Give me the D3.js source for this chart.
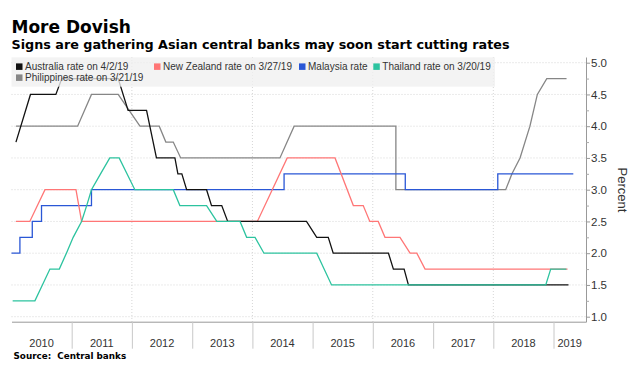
<!DOCTYPE html>
<html>
<head>
<meta charset="utf-8">
<script src="https://cdn.jsdelivr.net/npm/d3@7"></script>
<style>
  body { margin: 0; background: #fff; }
  svg { display: block; }
  .title { font-family: "DejaVu Sans", sans-serif; font-weight: bold; fill: #000; }
  .axis text { font-family: "Liberation Sans", Arial, sans-serif; fill: #333; }
  .legend text { font-family: "Liberation Sans", Arial, sans-serif; font-size: 10px; fill: #333; }
</style>
</head>
<body>
<div id="chart"></div>
<script>
/**
 * CONSTANTS
 * */
const width = 643,
  height = 375;

// plot box (left, right, top, bottom)
const plot = { left: 11.5, right: 586, top: 57, bottom: 321.7 };

/**
 * DATA  (date, policy rate in percent)
 * */
const australia = [
  ["2010-01-28", 3.75], ["2010-04-26", 4.5], ["2010-09-27", 4.5], ["2010-11-02", 4.75],
  ["2011-10-10", 4.75], ["2011-12-09", 4.25], ["2012-03-30", 4.25], ["2012-05-29", 3.5],
  ["2012-09-18", 3.5], ["2012-10-06", 3.25], ["2012-10-30", 3.25], ["2012-11-28", 3.0],
  ["2013-03-29", 3.0], ["2013-04-28", 2.75], ["2013-06-29", 2.75], ["2013-08-04", 2.5],
  ["2014-11-25", 2.5], ["2015-01-26", 2.25], ["2015-04-06", 2.25], ["2015-05-06", 2.0],
  ["2016-04-05", 2.0], ["2016-05-05", 1.75], ["2016-07-09", 1.75], ["2016-08-04", 1.5],
  ["2019-04-02", 1.5]
];

const newZealand = [
  ["2010-01-28", 2.5], ["2010-04-22", 2.5], ["2010-07-23", 3.0], ["2011-01-27", 3.0],
  ["2011-03-02", 2.5], ["2014-01-31", 2.5], ["2014-07-31", 3.5], ["2015-05-17", 3.5],
  ["2015-09-05", 2.75], ["2015-11-04", 2.75], ["2015-12-14", 2.5], ["2016-02-03", 2.5],
  ["2016-03-15", 2.25], ["2016-06-14", 2.25], ["2016-08-14", 2.0], ["2016-09-24", 2.0],
  ["2016-11-13", 1.75], ["2019-03-27", 1.75]
];

// Malaysia is drawn as steps: each entry is the day the rate changed
const malaysia = [
  ["2010-01-01", 2.0], ["2010-02-21", 2.25], ["2010-05-07", 2.5], ["2010-07-02", 2.75],
  ["2011-05-01", 3.0], ["2014-07-12", 3.25], ["2016-07-16", 3.0], ["2018-01-28", 3.25],
  ["2019-05-01", 3.25]
];

const thailand = [
  ["2010-01-08", 1.25], ["2010-05-23", 1.25], ["2010-08-22", 1.75], ["2010-10-18", 1.75],
  ["2010-11-30", 2.0], ["2011-01-10", 2.25], ["2011-03-02", 2.5], ["2011-04-02", 2.75],
  ["2011-05-01", 3.0], ["2011-06-25", 3.25], ["2011-08-20", 3.5], ["2011-10-16", 3.5],
  ["2012-01-19", 3.0], ["2012-09-08", 3.0], ["2012-10-18", 2.75], ["2013-03-29", 2.75],
  ["2013-05-30", 2.5], ["2013-10-18", 2.5], ["2013-11-27", 2.25], ["2014-01-17", 2.25],
  ["2014-03-12", 2.0], ["2015-01-26", 2.0], ["2015-04-26", 1.5], ["2018-11-15", 1.5],
  ["2018-12-15", 1.75], ["2019-03-20", 1.75]
];

const philippines = [
  ["2010-01-28", 4.0], ["2011-02-06", 4.0], ["2011-05-01", 4.5], ["2011-10-10", 4.5],
  ["2012-02-19", 4.0], ["2012-06-15", 4.0], ["2012-07-25", 3.75], ["2012-09-08", 3.75],
  ["2012-10-23", 3.5], ["2014-06-17", 3.5], ["2014-09-11", 4.0], ["2016-05-20", 4.0],
  ["2016-05-20", 3.0], ["2018-03-17", 3.0], ["2018-04-24", 3.25], ["2018-06-12", 3.5],
  ["2018-08-11", 4.0], ["2018-09-25", 4.5], ["2018-11-21", 4.75], ["2019-03-21", 4.75]
];

const seriesNames = [
  "Australia rate on 4/2/19",
  "New Zealand rate on 3/27/19",
  "Malaysia rate",
  "Thailand rate on 3/20/19",
  "Philippines rate on 3/21/19"
];
const seriesColors = ["#111111", "#ff7676", "#2a57d6", "#2cc39f", "#868686"];

const yearLabels = ["2010", "2011", "2012", "2013", "2014", "2015", "2016", "2017", "2018", "2019"];
const rateTicks = [1.0, 1.5, 2.0, 2.5, 3.0, 3.5, 4.0, 4.5, 5.0];
const rateMinorTicks = [1.25, 1.75, 2.25, 2.75, 3.25, 3.75, 4.25, 4.75];

const parseDate = d3.timeParse("%Y-%m-%d");

/**
 * SCALES
 * */
const x = d3.scaleTime()
  .domain([new Date(2010, 0, 1), new Date(2019, 6, 17)])
  .range([plot.left, plot.right]);

const y = d3.scaleLinear()
  .domain([0.9213, 5.0898])
  .range([plot.bottom, plot.top]);

const svg = d3.select("#chart")
  .append("svg")
  .attr("width", width)
  .attr("height", height);

// titles
svg.append("text").attr("class", "title")
  .attr("x", 11.5).attr("y", 32.5)
  .style("font-size", "17px")
  .text("More Dovish");

svg.append("text").attr("class", "title")
  .attr("x", 11.5).attr("y", 49.3)
  .style("font-size", "12.75px")
  .text("Signs are gathering Asian central banks may soon start cutting rates");

// gridlines
const yearStarts = yearLabels.map(d => new Date(+d, 0, 1));
const boundaries = yearStarts.slice(1);

svg.append("g")
  .selectAll("line")
  .data(rateTicks)
  .join("line")
  .attr("x1", plot.left).attr("x2", plot.right)
  .attr("y1", d => y(d)).attr("y2", d => y(d))
  .attr("stroke", "#d6d6d6")
  .attr("stroke-dasharray", "1,2");

svg.append("g")
  .selectAll("line")
  .data(boundaries.filter(d => d.getFullYear() % 2 === 0))
  .join("line")
  .attr("x1", d => x(d)).attr("x2", d => x(d))
  .attr("y1", plot.top).attr("y2", plot.bottom)
  .attr("stroke", "#d6d6d6")
  .attr("stroke-dasharray", "1,2");

// lines, drawn bottom to top
const line = d3.line()
  .x(d => x(parseDate(d[0])))
  .y(d => y(d[1]));

const stepLine = d3.line()
  .x(d => x(parseDate(d[0])))
  .y(d => y(d[1]))
  .curve(d3.curveStepAfter);

const drawOrder = [
  { data: philippines, i: 4, gen: line },
  { data: malaysia, i: 2, gen: stepLine },
  { data: newZealand, i: 1, gen: line },
  { data: australia, i: 0, gen: line },
  { data: thailand, i: 3, gen: line }
];

svg.append("g")
  .selectAll("path")
  .data(drawOrder)
  .join("path")
  .attr("d", d => d.gen(d.data))
  .attr("fill", "none")
  .attr("stroke", d => seriesColors[d.i])
  .attr("stroke-width", 1.3);

// legend (sits on top of the lines, slightly see-through)
const legend = svg.append("g").attr("class", "legend");
legend.append("rect")
  .attr("x", 11.5).attr("y", 57.3)
  .attr("width", 483.5).attr("height", 29.4)
  .attr("fill", "#efefef")
  .attr("fill-opacity", 0.78);

const legendPos = [[16, 0], [154, 0], [299, 0], [373.3, 0], [16, 1]];

const items = legend.selectAll("g.item")
  .data(seriesNames)
  .join("g")
  .attr("class", "item")
  .attr("transform", (d, i) => `translate(${legendPos[i][0]},${66.7 + legendPos[i][1] * 11})`);

items.append("rect")
  .attr("x", 0).attr("y", -3.3)
  .attr("width", 6.5).attr("height", 6.5)
  .attr("fill", (d, i) => seriesColors[i]);

items.append("text")
  .attr("x", 9)
  .attr("y", 3.6)
  .text(d => d);

// right axis
const yAxis = svg.append("g")
  .attr("class", "axis")
  .attr("transform", `translate(${plot.right},0)`)
  .call(d3.axisRight(y).tickValues(rateTicks).tickSize(4).tickSizeOuter(0).tickPadding(1)
    .tickFormat(d3.format(".1f")));
yAxis.select(".domain").attr("stroke", "#999");
yAxis.selectAll(".tick line").attr("stroke", "#999");
yAxis.selectAll("text").style("font-size", "11.5px");

const yMinor = svg.append("g")
  .attr("transform", `translate(${plot.right},0)`)
  .call(d3.axisRight(y).tickValues(rateMinorTicks).tickSize(3).tickFormat(""));
yMinor.select(".domain").remove();
yMinor.selectAll(".tick line").attr("stroke", "#aaa");

svg.append("text")
  .attr("class", "axis")
  .attr("transform", `translate(618,190) rotate(90)`)
  .attr("text-anchor", "middle")
  .style("font-family", "Liberation Sans, Arial, sans-serif")
  .style("font-size", "13px")
  .style("fill", "#333")
  .text("Percent");

// bottom axis: long ticks at year boundaries, labels centred between them
const xAxis = svg.append("g")
  .attr("class", "axis")
  .attr("transform", `translate(0,${plot.bottom})`)
  .call(d3.axisBottom(x).tickValues(boundaries).tickSize(27).tickSizeOuter(0).tickFormat(""));
xAxis.select(".domain").attr("stroke", "#999");
xAxis.selectAll(".tick line").attr("stroke", "#c8c8c8");

svg.append("g")
  .attr("class", "axis")
  .selectAll("text")
  .data(yearLabels)
  .join("text")
  .attr("x", (d, i) => {
    const a = x(yearStarts[i]);
    const b = i < yearStarts.length - 1 ? x(yearStarts[i + 1]) : plot.right;
    return (a + b) / 2;
  })
  .attr("y", 347.3)
  .attr("text-anchor", "middle")
  .style("font-size", "11px")
  .text(d => d);

// source
svg.append("text").attr("class", "title")
  .attr("x", 13.5).attr("y", 359)
  .style("font-size", "8.8px")
  .style("white-space", "pre")
  .text("Source:  Central banks");
</script>
</body>
</html>
